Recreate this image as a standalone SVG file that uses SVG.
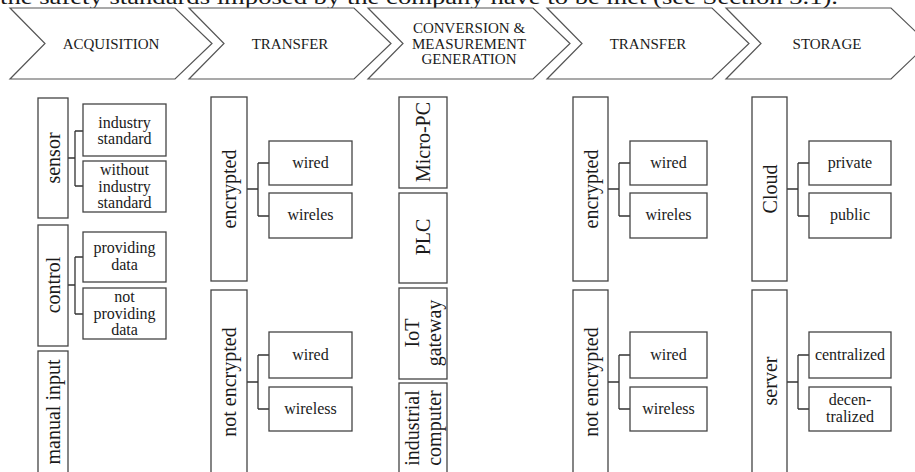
<svg xmlns="http://www.w3.org/2000/svg" width="915" height="472" viewBox="0 0 915 472" font-family="'Liberation Serif','Times New Roman',serif">
<style>
.chev{fill:#fff;stroke:#555;stroke-width:1.2}
.box{fill:#fff;stroke:#444;stroke-width:1.3}
.conn{fill:none;stroke:#333;stroke-width:1.3}
text{font-family:"Liberation Serif","Times New Roman",serif;fill:#1a1a1a;text-anchor:middle}
.hdr{font-size:15px}
.lbl{font-size:16px}
.vl{font-size:20px}
.top{font-size:22px;text-anchor:start}
</style>
<rect width="915" height="472" fill="#fff"/>
<text class="top" x="0" y="4" textLength="838" lengthAdjust="spacingAndGlyphs">the safety standards imposed by the company have to be met (see Section 3.1).</text>

<g id="hdr-acquisition"><path class="chev" d="M10,8 L175,8 L212,43.5 L175,79 L10,79 L45,43.5 Z"/><text class="hdr" x="111" y="49">ACQUISITION</text></g>
<g id="hdr-transfer1"><path class="chev" d="M189,8 L354,8 L391,43.5 L354,79 L189,79 L224,43.5 Z"/><text class="hdr" x="290" y="49">TRANSFER</text></g>
<g id="hdr-conversion"><path class="chev" d="M368,8 L533,8 L570,43.5 L533,79 L368,79 L403,43.5 Z"/><text class="hdr" x="469" y="33"><tspan x="469">CONVERSION &amp;</tspan><tspan x="469" dy="15.5">MEASUREMENT</tspan><tspan x="469" dy="15.5">GENERATION</tspan></text></g>
<g id="hdr-transfer2"><path class="chev" d="M547,8 L712,8 L749,43.5 L712,79 L547,79 L582,43.5 Z"/><text class="hdr" x="648" y="49">TRANSFER</text></g>
<g id="hdr-storage"><path class="chev" d="M726,8 L891,8 L928,43.5 L891,79 L726,79 L761,43.5 Z"/><text class="hdr" x="827" y="49">STORAGE</text></g>

<g id="connectors">
<path class="conn" d="M68,158 H75 M75,131 V186 M75,131 H83 M75,186 H83"/>
<path class="conn" d="M68,285 H75 M75,257 V314 M75,257 H83 M75,314 H83"/>
<path class="conn" d="M247,189 H258 M258,163 V216 M258,163 H269 M258,216 H269"/>
<path class="conn" d="M247,382 H258 M258,355 V409 M258,355 H269 M258,409 H269"/>
<path class="conn" d="M608,189 H619 M619,163 V216 M619,163 H630 M619,216 H630"/>
<path class="conn" d="M608,382 H619 M619,355 V409 M619,355 H630 M619,409 H630"/>
<path class="conn" d="M787,189 H798 M798,163 V216 M798,163 H809 M798,216 H809"/>
<path class="conn" d="M787,382 H798 M798,355 V409 M798,355 H809 M798,409 H809"/>
</g>

<!-- Acquisition -->
<g id="sensor"><rect class="box" x="38" y="98" width="30" height="120"/><text class="vl" transform="translate(53,158) rotate(-90)" dy="7">sensor</text></g>
<g id="industry-standard"><rect class="box" x="83" y="104" width="83" height="52"/><text class="lbl" x="124.5" y="128"><tspan x="124.5">industry</tspan><tspan x="124.5" dy="16">standard</tspan></text></g>
<g id="without-industry-standard"><rect class="box" x="83" y="161" width="83" height="51"/><text class="lbl" x="124.5" y="175"><tspan x="124.5">without</tspan><tspan x="124.5" dy="16.5">industry</tspan><tspan x="124.5" dy="16.5">standard</tspan></text></g>
<g id="control"><rect class="box" x="38" y="225" width="30" height="121"/><text class="vl" transform="translate(53,285) rotate(-90)" dy="7">control</text></g>
<g id="providing-data"><rect class="box" x="83" y="232" width="83" height="50"/><text class="lbl" x="124.5" y="253"><tspan x="124.5">providing</tspan><tspan x="124.5" dy="16.5">data</tspan></text></g>
<g id="not-providing-data"><rect class="box" x="83" y="288" width="83" height="51"/><text class="lbl" x="124.5" y="302"><tspan x="124.5">not</tspan><tspan x="124.5" dy="16.5">providing</tspan><tspan x="124.5" dy="16.5">data</tspan></text></g>
<g id="manual-input"><rect class="box" x="38" y="351" width="30" height="140"/><text class="vl" transform="translate(53,412) rotate(-90)" dy="7">manual input</text></g>

<!-- Transfer 1 -->
<g id="encrypted1"><rect class="box" x="211" y="97" width="36" height="184"/><text class="vl" transform="translate(229,189) rotate(-90)" dy="7">encrypted</text></g>
<g id="wired1"><rect class="box" x="269" y="141" width="83" height="44"/><text class="lbl" x="310.5" y="168">wired</text></g>
<g id="wireles1"><rect class="box" x="269" y="193" width="83" height="45"/><text class="lbl" x="310.5" y="220">wireles</text></g>
<g id="not-encrypted1"><rect class="box" x="211" y="290" width="36" height="200"/><text class="vl" transform="translate(229,382) rotate(-90)" dy="7">not encrypted</text></g>
<g id="wired2"><rect class="box" x="269" y="332" width="83" height="46"/><text class="lbl" x="310.5" y="360">wired</text></g>
<g id="wireless2"><rect class="box" x="269" y="387" width="83" height="44"/><text class="lbl" x="310.5" y="414">wireless</text></g>

<!-- Conversion -->
<g id="micro-pc"><rect class="box" x="399" y="97" width="48" height="91"/><text class="vl" transform="translate(423,142) rotate(-90)" dy="7">Micro-PC</text></g>
<g id="plc"><rect class="box" x="399" y="193" width="48" height="90"/><text class="vl" transform="translate(423,237) rotate(-90)" dy="7">PLC</text></g>
<g id="iot-gateway"><rect class="box" x="399" y="288" width="48" height="91"/><text class="vl" transform="translate(423,333) rotate(-90)"><tspan x="0" dy="-4">IoT</tspan><tspan x="0" dy="22">gateway</tspan></text></g>
<g id="industrial-computer"><rect class="box" x="399" y="383" width="48" height="110"/><text class="vl" transform="translate(423,428) rotate(-90)"><tspan x="0" dy="-4">industrial</tspan><tspan x="0" dy="22">computer</tspan></text></g>

<!-- Transfer 2 -->
<g id="encrypted2"><rect class="box" x="573" y="97" width="35" height="184"/><text class="vl" transform="translate(591,189) rotate(-90)" dy="7">encrypted</text></g>
<g id="wired3"><rect class="box" x="630" y="141" width="77" height="44"/><text class="lbl" x="668.5" y="168">wired</text></g>
<g id="wireles3"><rect class="box" x="630" y="193" width="77" height="45"/><text class="lbl" x="668.5" y="220">wireles</text></g>
<g id="not-encrypted2"><rect class="box" x="573" y="290" width="35" height="200"/><text class="vl" transform="translate(591,382) rotate(-90)" dy="7">not encrypted</text></g>
<g id="wired4"><rect class="box" x="630" y="332" width="77" height="46"/><text class="lbl" x="668.5" y="360">wired</text></g>
<g id="wireless4"><rect class="box" x="630" y="387" width="77" height="44"/><text class="lbl" x="668.5" y="414">wireless</text></g>

<!-- Storage -->
<g id="cloud"><rect class="box" x="752" y="97" width="35" height="184"/><text class="vl" transform="translate(770,189) rotate(-90)" dy="7">Cloud</text></g>
<g id="private"><rect class="box" x="809" y="141" width="82" height="44"/><text class="lbl" x="850" y="168">private</text></g>
<g id="public"><rect class="box" x="809" y="193" width="82" height="45"/><text class="lbl" x="850" y="220">public</text></g>
<g id="server"><rect class="box" x="752" y="290" width="35" height="200"/><text class="vl" transform="translate(770,381) rotate(-90)" dy="7">server</text></g>
<g id="centralized"><rect class="box" x="809" y="332" width="82" height="46"/><text class="lbl" x="850" y="360">centralized</text></g>
<g id="decentralized"><rect class="box" x="809" y="387" width="82" height="44"/><text class="lbl" x="850" y="405"><tspan x="850">decen-</tspan><tspan x="850" dy="16.5">tralized</tspan></text></g>
</svg>
